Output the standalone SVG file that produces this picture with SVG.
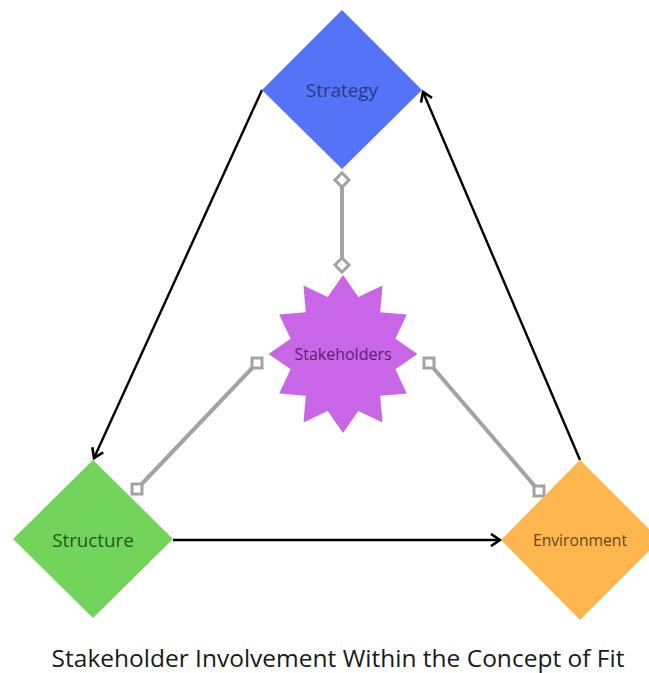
<svg xmlns="http://www.w3.org/2000/svg" width="649" height="673" viewBox="0 0 649 673">
<style>
.lbl{font-family:"Open Sans","Noto Sans","Liberation Sans",sans-serif;text-anchor:middle;dominant-baseline:central}
.arrow{stroke:#000;stroke-width:2.4;fill:none}
.gray{stroke:#a3a3a3;stroke-width:4;fill:none}
.mk{fill:#fff;stroke:#a3a3a3;stroke-width:3}
</style>
<defs>
<marker id="ah" markerWidth="14" markerHeight="14" refX="11" refY="7" orient="auto" markerUnits="userSpaceOnUse">
<path d="M2,1 L11,7 L2,13" fill="none" stroke="#000" stroke-width="2.6"/>
</marker>
</defs>
<rect width="649" height="673" fill="#fff"/>
<g id="connectors">
<line class="arrow" x1="262" y1="90" x2="94" y2="458" marker-end="url(#ah)"/>
<line class="arrow" x1="173" y1="540" x2="500" y2="540" marker-end="url(#ah)"/>
<line class="arrow" x1="580" y1="460" x2="423" y2="92" marker-end="url(#ah)"/>
<line class="gray" x1="342" y1="181" x2="342" y2="264"/>
<line class="gray" x1="257" y1="363" x2="137" y2="489"/>
<line class="gray" x1="429" y1="363" x2="539" y2="491"/>
<rect class="mk" x="337" y="175" width="10" height="10" transform="rotate(45 342 180)"/>
<rect class="mk" x="337" y="260" width="10" height="10" transform="rotate(45 342 265)"/>
<rect class="mk" x="252" y="358" width="10" height="10"/>
<rect class="mk" x="132" y="484" width="10" height="10"/>
<rect class="mk" x="424" y="358" width="10" height="10"/>
<rect class="mk" x="534" y="486" width="10" height="10"/>
</g>
<g id="strategy">
<polygon points="342,10 422,90 342,169 262,90" fill="#5473f6"/>
<text class="lbl" x="342" y="90" font-size="18.8" fill="#283a86">Strategy</text>
</g>
<g id="structure">
<polygon points="93,460 173,539 93,618 13,539" fill="#72d45b"/>
<text class="lbl" x="93" y="540" font-size="18.8" fill="#1f5a1c">Structure</text>
</g>
<g id="environment">
<polygon points="580,460 660,540 580,620 501,540" fill="#fdb64e"/>
<text class="lbl" x="580" y="540" font-size="15.7" fill="#6a4719">Environment</text>
</g>
<g id="stakeholders">
<polygon fill="#c966e8" points="343.0,275.0 358.3,297.0 382.5,285.6 380.2,312.2 406.8,314.5 395.4,338.7 417.4,354.0 395.4,369.3 406.8,393.5 380.2,395.8 382.5,422.4 358.3,411.0 343.0,433.0 327.7,411.0 303.5,422.4 305.8,395.8 279.2,393.5 290.6,369.3 268.6,354.0 290.6,338.7 279.2,314.5 305.8,312.2 303.5,285.6 327.7,297.0"/>
<text class="lbl" x="343" y="354" font-size="16" fill="#5b1f72">Stakeholders</text>
</g>
<text class="lbl" x="338" y="657" font-size="24.5" fill="#1a1a1a">Stakeholder Involvement Within the Concept of Fit</text>
</svg>
